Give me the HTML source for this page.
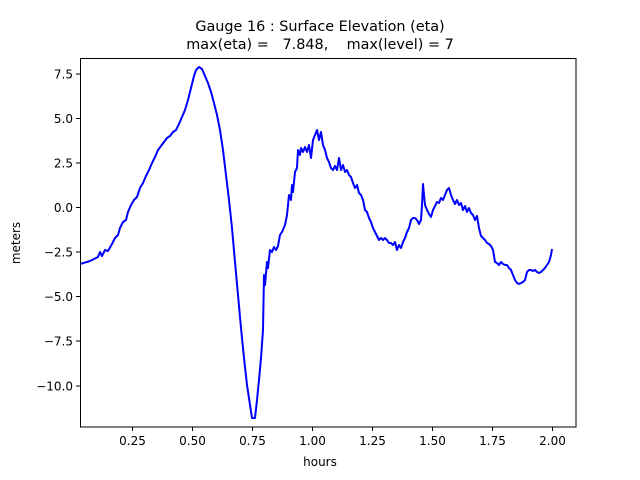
<!DOCTYPE html>
<html><head><meta charset="utf-8"><style>
body{margin:0;background:#fff;}
svg{display:block;font-family:"DejaVu Sans","Liberation Sans",sans-serif;}
</style></head><body>
<svg width="640" height="480" viewBox="0 0 640 480">
<rect width="640" height="480" fill="#fff"/>
<text x="320" y="31" font-size="14.4" text-anchor="middle">Gauge 16 : Surface Elevation (eta)</text>
<text x="320" y="49" font-size="14.4" text-anchor="middle" xml:space="preserve">max(eta) =   7.848,    max(level) = 7</text>
<defs><clipPath id="c"><rect x="80" y="58" width="496" height="369"/></clipPath></defs>
<polyline clip-path="url(#c)" fill="none" stroke="#0000ff" stroke-width="2" stroke-linejoin="round" points="
80,264 90,261 98,257 100,252 102,256 105,250 108,251 112,244 115,238 118,235 120,228 123,222 126,220 128,212 131,205 134,200 137,197 140,188 143,183 146,176 149,170 152,163 155,157 158,150 161,146 164,142 167,138 170,136 173,132 176,130 179,124 182,117 185,110 188,100 191,88 194,76 196,70 199,67 202,69 205,76 208,83 211,92 214,103 217,115 220,130 223,150 226,175 229,200 232,228 235,262 238,295 241,328 244,358 247,385 250,405 252,418 255,418 257,400 259,380 261,358 263,330 264,275 265,285 267,262 268,268 270,250 272,252 274,247 276,250 278,246 280,235 282,232 285,225 287,215 289,195 291,200 292,185 293,192 295,172 297,168 298,150 300,155 301,148 303,152 305,147 307,152 309,145 311,158 313,140 315,135 317,130 319,140 321,132 323,145 325,150 327,158 329,162 331,168 333,170 335,166 337,170 339,158 341,170 343,165 345,172 347,170 349,175 351,177 353,183 355,188 357,185 359,193 361,195 363,200 365,210 367,212 369,218 371,222 373,228 375,232 377,236 379,240 381,238 383,240 385,238 387,240 389,243 391,243 393,245 395,242 397,250 399,245 401,248 403,242 405,238 407,232 409,228 411,220 413,218 415,218 417,220 419,224 421,220 422,205 423,184 424,195 425,205 427,210 429,214 431,217 433,210 435,206 437,202 439,203 441,198 443,200 445,195 447,190 449,188 451,195 453,200 455,204 457,200 459,205 461,203 463,210 465,206 467,212 469,208 471,213 473,215 475,220 477,216 479,228 481,236 483,238 485,240 487,243 489,244 491,246 493,250 495,262 497,263 499,265 501,262 503,264 505,265 507,265 509,268 511,270 513,275 515,280 517,283 519,284 521,283 523,282 525,280 527,272 529,270 531,270 533,271 535,270 537,272 539,273 541,272 543,270 545,268 547,265 549,262 551,255 552,249"/>
<rect x="80.5" y="58.5" width="495.5" height="368.5" fill="none" stroke="#000" stroke-width="1"/>
<g stroke="#000" stroke-width="1">
<line x1="132.5" y1="427" x2="132.5" y2="431"/><line x1="192.5" y1="427" x2="192.5" y2="431"/><line x1="252.5" y1="427" x2="252.5" y2="431"/><line x1="312.5" y1="427" x2="312.5" y2="431"/><line x1="372.5" y1="427" x2="372.5" y2="431"/><line x1="432.5" y1="427" x2="432.5" y2="431"/><line x1="492.5" y1="427" x2="492.5" y2="431"/><line x1="552.5" y1="427" x2="552.5" y2="431"/>
<line x1="76" y1="74" x2="80" y2="74"/><line x1="76" y1="118.5" x2="80" y2="118.5"/><line x1="76" y1="163" x2="80" y2="163"/><line x1="76" y1="207.5" x2="80" y2="207.5"/><line x1="76" y1="252" x2="80" y2="252"/><line x1="76" y1="296.5" x2="80" y2="296.5"/><line x1="76" y1="341" x2="80" y2="341"/><line x1="76" y1="386" x2="80" y2="386"/>
</g>
<g font-size="12" text-anchor="middle">
<text x="132.5" y="445">0.25</text><text x="192.5" y="445">0.50</text><text x="252.5" y="445">0.75</text><text x="312.5" y="445">1.00</text><text x="372.5" y="445">1.25</text><text x="432.5" y="445">1.50</text><text x="492.5" y="445">1.75</text><text x="552.5" y="445">2.00</text>
<text x="320" y="466">hours</text>
</g>
<g font-size="12" text-anchor="end">
<text x="73" y="78.5">7.5</text><text x="73" y="123">5.0</text><text x="73" y="167.5">2.5</text><text x="73" y="212">0.0</text><text x="73" y="256.5">−2.5</text><text x="73" y="301">−5.0</text><text x="73" y="345.5">−7.5</text><text x="73" y="390.5">−10.0</text>
</g>
<text transform="translate(20,243) rotate(-90)" font-size="12" text-anchor="middle">meters</text>
</svg>
</body></html>
